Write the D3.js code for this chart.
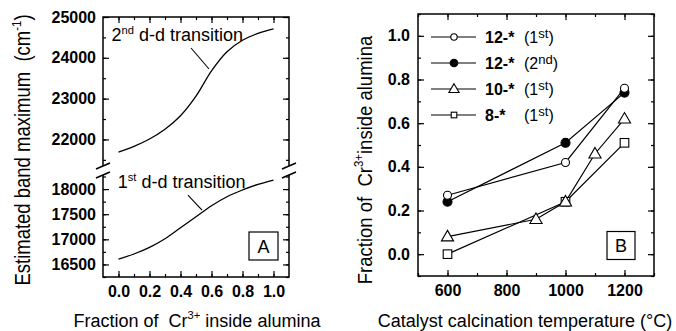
<!DOCTYPE html>
<html lang="en">
<head>
  <meta charset="UTF-8" />
  <title>Cr3+ band maxima and fraction inside alumina</title>
  <script src="https://cdn.jsdelivr.net/npm/d3@7"></script>
  <style>
    body { margin: 0; background: #fff; }
    svg { display: block; font-family: "Liberation Sans", Arial, sans-serif; }
    text { white-space: pre; }
  </style>
</head>
<body>
  <div id="chart"></div>
  <script>
    // Panel A: band maxima vs fraction of Cr3+ inside alumina
    const fracX = [0.0, 0.1, 0.2, 0.3, 0.4, 0.5, 0.6, 0.7, 0.8, 0.9, 1.0];
    const band2nd = [21690, 21830, 22010, 22250, 22580, 23060, 23680, 24150, 24430, 24600, 24710];
    const band1st = [16605, 16708, 16840, 17012, 17231, 17450, 17669, 17848, 17982, 18095, 18180];
    const fracTicks = [0.0, 0.2, 0.4, 0.6, 0.8, 1.0];
    const upperTicks = [22000, 23000, 24000, 25000];
    const lowerTicks = [16500, 17000, 17500, 18000];

    // Panel B: fraction vs calcination temperature
    const temps12a = [600, 1000, 1200];
    const frac12a = [0.27, 0.42, 0.76];
    const temps12b = [600, 1000, 1200];
    const frac12b = [0.24, 0.51, 0.74];
    const temps10 = [600, 900, 1000, 1100, 1200];
    const frac10 = [0.08, 0.16, 0.24, 0.46, 0.62];
    const temps8 = [600, 1000, 1200];
    const frac8 = [0.00, 0.24, 0.51];
    const seriesNames = ["12-*", "12-*", "10-*", "8-*"];
    const seriesOrder = ["1st", "2nd", "1st", "1st"];
    const seriesMarks = ["circleOpen", "circleFilled", "triangle", "square"];
    const tempTicks = [600, 800, 1000, 1200];
    const fracBTicks = [0.0, 0.2, 0.4, 0.6, 0.8, 1.0];

    const W = 676, H = 331;
    const svg = d3.select("#chart").append("svg")
      .attr("width", W).attr("height", H);

    // rich text with superscripts: parts = [[string, isSup], ...]
    function richText(g, x, y, parts, size, opts = {}) {
      const supScale = opts.supScale || 0.62;
      const raise = size * (opts.raise || 0.42);
      const t = g.append("text")
        .attr("x", x).attr("y", y)
        .attr("font-size", size)
        .attr("font-weight", opts.weight || "normal")
        .attr("text-anchor", opts.anchor || "start")
        .attr("fill", "#000");
      if (opts.transform) t.attr("transform", opts.transform);
      let up = false;
      parts.forEach(([s, sup]) => {
        const sp = t.append("tspan").text(s);
        if (sup) {
          sp.attr("font-size", size * supScale).attr("dy", up ? 0 : -raise);
          up = true;
        } else {
          if (up) sp.attr("dy", raise);
          up = false;
        }
      });
      return t;
    }

    function styleAxis(g, size) {
      g.select(".domain").remove();
      g.selectAll("line").attr("stroke", "#000").attr("stroke-width", 1.2);
      g.selectAll("text")
        .attr("font-family", "'Liberation Sans', Arial, sans-serif")
        .attr("font-size", size).attr("font-weight", "bold").attr("fill", "#000");
    }

    // ---------- Panel A ----------
    const xA = d3.scaleLinear().domain([-0.1, 1.1]).range([103, 289]);
    const yAu = d3.scaleLinear().domain([21300, 25000]).range([168, 17]);
    const yAl = d3.scaleLinear().domain([16250, 18300]).range([277, 174]);
    const gA = svg.append("g");

    const upMinor = d3.range(21500, 25001, 500);
    const loMinor = d3.range(16250, 18300, 250);
    const fracMinor = d3.range(0, 10.01, 1).map(d => d / 10);

    gA.append("g").attr("transform", `translate(${xA.range()[0]},0)`)
      .call(d3.axisLeft(yAu).tickValues(upMinor).tickSize(-3).tickFormat(""))
      .call(g => styleAxis(g, 16));
    gA.append("g").attr("transform", `translate(${xA.range()[0]},0)`)
      .call(d3.axisLeft(yAu).tickValues(upperTicks).tickSize(-6).tickPadding(7).tickFormat(d3.format("d")))
      .call(g => styleAxis(g, 16));
    gA.append("g").attr("transform", `translate(${xA.range()[1]},0)`)
      .call(d3.axisRight(yAu).tickValues(upMinor).tickSize(-3).tickFormat(""))
      .call(g => styleAxis(g, 16));
    gA.append("g").attr("transform", `translate(${xA.range()[1]},0)`)
      .call(d3.axisRight(yAu).tickValues(upperTicks).tickSize(-6).tickFormat(""))
      .call(g => styleAxis(g, 16));

    gA.append("g").attr("transform", `translate(${xA.range()[0]},0)`)
      .call(d3.axisLeft(yAl).tickValues(loMinor).tickSize(-3).tickFormat(""))
      .call(g => styleAxis(g, 16));
    gA.append("g").attr("transform", `translate(${xA.range()[0]},0)`)
      .call(d3.axisLeft(yAl).tickValues(lowerTicks).tickSize(-6).tickPadding(7).tickFormat(d3.format("d")))
      .call(g => styleAxis(g, 16));
    gA.append("g").attr("transform", `translate(${xA.range()[1]},0)`)
      .call(d3.axisRight(yAl).tickValues(loMinor).tickSize(-3).tickFormat(""))
      .call(g => styleAxis(g, 16));
    gA.append("g").attr("transform", `translate(${xA.range()[1]},0)`)
      .call(d3.axisRight(yAl).tickValues(lowerTicks).tickSize(-6).tickFormat(""))
      .call(g => styleAxis(g, 16));

    gA.append("g").attr("transform", `translate(0,${yAl.range()[0]})`)
      .call(d3.axisBottom(xA).tickValues(fracMinor).tickSize(-3).tickFormat(""))
      .call(g => styleAxis(g, 16));
    gA.append("g").attr("transform", `translate(0,${yAl.range()[0]})`)
      .call(d3.axisBottom(xA).tickValues(fracTicks).tickSize(-6).tickPadding(9).tickFormat(d3.format(".1f")))
      .call(g => styleAxis(g, 16));
    gA.append("g").attr("transform", `translate(0,${yAu.range()[1]})`)
      .call(d3.axisTop(xA).tickValues(fracMinor).tickSize(-3).tickFormat(""))
      .call(g => styleAxis(g, 16));
    gA.append("g").attr("transform", `translate(0,${yAu.range()[1]})`)
      .call(d3.axisTop(xA).tickValues(fracTicks).tickSize(-6).tickFormat(""))
      .call(g => styleAxis(g, 16));

    // frame with axis break
    const [ax0, ax1] = xA.range();
    const topY = yAu.range()[1], botY = yAl.range()[0];
    const brkTop = 166, brkBot = 175;
    const frame = gA.append("g").attr("stroke", "#000").attr("stroke-width", 1.5).attr("fill", "none");
    frame.append("path").attr("d", `M${ax0},${brkTop}V${topY}H${ax1}V${brkTop}`);
    frame.append("path").attr("d", `M${ax0},${brkBot}V${botY}H${ax1}V${brkBot}`);
    [ax0, ax1].forEach(x => {
      frame.append("line").attr("x1", x - 7).attr("y1", brkTop + 3).attr("x2", x + 7).attr("y2", brkTop - 3);
      frame.append("line").attr("x1", x - 7).attr("y1", brkBot + 3).attr("x2", x + 7).attr("y2", brkBot - 3);
    });

    // curves
    const lineU = d3.line().x((d, i) => xA(fracX[i])).y(d => yAu(d)).curve(d3.curveCatmullRom);
    const lineL = d3.line().x((d, i) => xA(fracX[i])).y(d => yAl(d)).curve(d3.curveCatmullRom);
    gA.append("path").datum(band2nd).attr("d", lineU)
      .attr("fill", "none").attr("stroke", "#000").attr("stroke-width", 1.3);
    gA.append("path").datum(band1st).attr("d", lineL)
      .attr("fill", "none").attr("stroke", "#000").attr("stroke-width", 1.3);

    // curve labels with leaders
    richText(gA, xA(-0.045), yAu(24410), [["2"], ["nd", true], [" d-d transition"]], 18);
    gA.append("line").attr("x1", xA(0.468)).attr("y1", yAu(24240))
      .attr("x2", xA(0.584)).attr("y2", yAu(23726)).attr("stroke", "#000").attr("stroke-width", 1.1);
    richText(gA, xA(-0.005), yAl(18020), [["1"], ["st", true], [" d-d transition"]], 18);
    gA.append("line").attr("x1", xA(0.448)).attr("y1", yAl(17882))
      .attr("x2", xA(0.539)).attr("y2", yAl(17583)).attr("stroke", "#000").attr("stroke-width", 1.1);

    // panel letter box
    gA.append("rect").attr("x", ax1 - 40).attr("y", botY - 45).attr("width", 29).attr("height", 28)
      .attr("fill", "#fff").attr("stroke", "#000").attr("stroke-width", 1.2);
    gA.append("text").attr("x", ax1 - 25.5).attr("y", botY - 24.5).attr("text-anchor", "middle")
      .attr("font-size", 18).text("A");

    // axis titles
    richText(gA, 197, 327, [["Fraction of  Cr"], ["3+", true], [" inside alumina"]], 18, { anchor: "middle" });
    richText(gA, 0, 0, [["Estimated band maximum  (cm"], ["-1", true], [")"]], 18.5,
      { anchor: "middle", transform: "translate(30,150) rotate(-90) scale(1,1.15)" });

    // ---------- Panel B ----------
    const xB = d3.scaleLinear().domain([500, 1300]).range([418, 654]);
    const yB = d3.scaleLinear().domain([-0.1, 1.1]).range([276, 14]);
    const gB = svg.append("g");
    const [bx0, bx1] = xB.range();
    const [by0, by1] = yB.range();
    const tMinor = d3.range(500, 1301, 100);
    const fMinor = d3.range(-1, 11.01, 1).map(d => d / 10);

    gB.append("g").attr("transform", `translate(${bx0},0)`)
      .call(d3.axisLeft(yB).tickValues(fMinor).tickSize(-3).tickFormat(""))
      .call(g => styleAxis(g, 16));
    gB.append("g").attr("transform", `translate(${bx0},0)`)
      .call(d3.axisLeft(yB).tickValues(fracBTicks).tickSize(-6).tickPadding(8).tickFormat(d3.format(".1f")))
      .call(g => styleAxis(g, 16));
    gB.append("g").attr("transform", `translate(${bx1},0)`)
      .call(d3.axisRight(yB).tickValues(fMinor).tickSize(-3).tickFormat(""))
      .call(g => styleAxis(g, 16));
    gB.append("g").attr("transform", `translate(${bx1},0)`)
      .call(d3.axisRight(yB).tickValues(fracBTicks).tickSize(-6).tickFormat(""))
      .call(g => styleAxis(g, 16));
    gB.append("g").attr("transform", `translate(0,${by0})`)
      .call(d3.axisBottom(xB).tickValues(tMinor).tickSize(-3).tickFormat(""))
      .call(g => styleAxis(g, 16));
    gB.append("g").attr("transform", `translate(0,${by0})`)
      .call(d3.axisBottom(xB).tickValues(tempTicks).tickSize(-6).tickPadding(9).tickFormat(d3.format("d")))
      .call(g => styleAxis(g, 16));
    gB.append("g").attr("transform", `translate(0,${by1})`)
      .call(d3.axisTop(xB).tickValues(tMinor).tickSize(-3).tickFormat(""))
      .call(g => styleAxis(g, 16));
    gB.append("g").attr("transform", `translate(0,${by1})`)
      .call(d3.axisTop(xB).tickValues(tempTicks).tickSize(-6).tickFormat(""))
      .call(g => styleAxis(g, 16));

    gB.append("rect").attr("x", bx0).attr("y", by1).attr("width", bx1 - bx0).attr("height", by0 - by1)
      .attr("fill", "none").attr("stroke", "#000").attr("stroke-width", 1.5);

    const seriesT = [temps12a, temps12b, temps10, temps8];
    const seriesF = [frac12a, frac12b, frac10, frac8];

    function marker(g, type, x, y, s) {
      if (type === "circleOpen" || type === "circleFilled") {
        g.append("circle").attr("cx", x).attr("cy", y).attr("r", s)
          .attr("fill", type === "circleFilled" ? "#000" : "#fff")
          .attr("stroke", "#000").attr("stroke-width", 1.1);
      } else if (type === "triangle") {
        const h = s * 2.1;
        g.append("path")
          .attr("d", `M${x},${y - h * 0.6}L${x + h * 0.58},${y + h * 0.4}L${x - h * 0.58},${y + h * 0.4}Z`)
          .attr("fill", "#fff").attr("stroke", "#000").attr("stroke-width", 1.1);
      } else {
        g.append("rect").attr("x", x - s).attr("y", y - s).attr("width", 2 * s).attr("height", 2 * s)
          .attr("fill", "#fff").attr("stroke", "#000").attr("stroke-width", 1.1);
      }
    }

    // lines first, then markers
    seriesT.forEach((ts, k) => {
      gB.append("path").datum(seriesF[k])
        .attr("d", d3.line().x((d, i) => xB(ts[i])).y(d => yB(d)))
        .attr("fill", "none").attr("stroke", "#000").attr("stroke-width", 1.2);
    });
    const markSize = { circleOpen: 4, circleFilled: 4.5, triangle: 5, square: 4.3 };
    for (let k = seriesT.length - 1; k >= 0; k--) {
      seriesT[k].forEach((t, i) => marker(gB, seriesMarks[k], xB(t), yB(seriesF[k][i]), markSize[seriesMarks[k]]));
    }

    // legend
    const legSize = { circleOpen: 3.2, circleFilled: 3.8, triangle: 4.2, square: 2.8 };
    seriesNames.forEach((name, k) => {
      const y = 37 + k * 26;
      gB.append("line").attr("x1", bx0 + 13).attr("x2", bx0 + 58).attr("y1", y).attr("y2", y)
        .attr("stroke", "#000").attr("stroke-width", 1.2);
      marker(gB, seriesMarks[k], bx0 + 36, y, legSize[seriesMarks[k]]);
      gB.append("text").attr("x", bx0 + 67).attr("y", y + 6).attr("font-size", 16)
        .attr("font-weight", "bold").text(name);
      const ord = seriesOrder[k];
      richText(gB, bx0 + 106, y + 6, [["(" + ord.slice(0, 1)], [ord.slice(1), true], [")"]], 16,
        { supScale: 0.82, raise: 0.3 });
    });

    gB.append("rect").attr("x", bx1 - 47).attr("y", by0 - 44.5).attr("width", 28).attr("height", 28)
      .attr("fill", "#fff").attr("stroke", "#000").attr("stroke-width", 1.2);
    gB.append("text").attr("x", bx1 - 33).attr("y", by0 - 24).attr("text-anchor", "middle")
      .attr("font-size", 18).text("B");

    richText(gB, 525, 327, [["Catalyst calcination temperature (°C)"]], 18, { anchor: "middle" });
    richText(gB, 0, 0, [["Fraction of  Cr"], ["3+", true], ["inside alumina"]], 18.5,
      { anchor: "middle", transform: "translate(372,160) rotate(-90) scale(1,1.1)" });
  </script>
</body>
</html>
